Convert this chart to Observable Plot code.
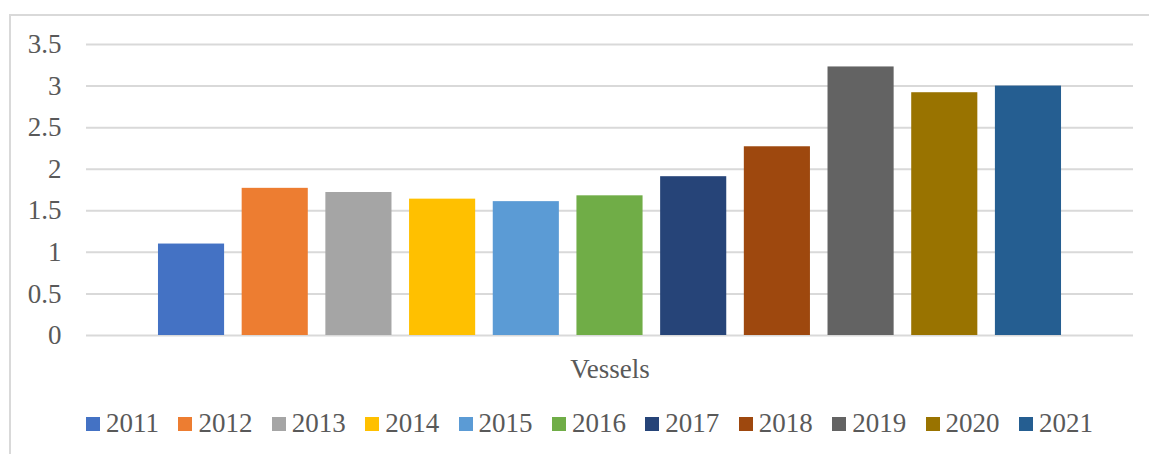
<!DOCTYPE html>
<html>
<head>
<meta charset="utf-8">
<script src="https://cdn.jsdelivr.net/npm/d3@7"></script>
<script src="https://cdn.jsdelivr.net/npm/@observablehq/plot@0.6"></script>
<style>
  html, body { margin: 0; padding: 0; background: #fff; }
  #wrap { position: relative; width: 1149px; height: 454px; overflow: hidden;
          font-family: "Liberation Serif", "Times New Roman", serif; }
  #frame { position: absolute; left: 9px; top: 14px; width: 1200px; height: 500px;
           border: 2px solid #d9d9d9; box-sizing: border-box; }
  #chart { position: absolute; left: 0; top: 0; }
  #legend { position: absolute; left: 86px; top: 407px; }
  .lg-swatch { margin-right: 19.4px !important; }
  .lg-swatch > svg { margin-right: 6px !important; }
</style>
</head>
<body>
<div id="wrap">
  <div id="frame"></div>
  <div id="chart"></div>
  <div id="legend"></div>
</div>
<script>
const categories = ["Vessels"];
const years = ["2011", "2012", "2013", "2014", "2015", "2016", "2017", "2018", "2019", "2020", "2021"];
const values = [1.1, 1.77, 1.72, 1.64, 1.61, 1.68, 1.91, 2.27, 3.23, 2.92, 3.0];
const colors = ["#4472c4", "#ed7d31", "#a5a5a5", "#ffc000", "#5b9bd5", "#70ad47",
                "#264478", "#9e480e", "#636363", "#997300", "#255e91"];
const yTicks = [0, 0.5, 1, 1.5, 2, 2.5, 3, 3.5];

const table = years.map((year, i) => ({ category: categories[0], year, value: values[i] }));

const font = '"Liberation Serif", "Times New Roman", serif';

const chart = Plot.plot({
  width: 1149,
  height: 400,
  marginLeft: 86,
  marginRight: 16,
  marginTop: 44,
  marginBottom: 65,
  style: { fontFamily: font, fontSize: "27px", color: "#595959", background: "transparent", overflow: "visible" },
  fx: { padding: 0, label: null, axis: "bottom", tickSize: 0, tickPadding: 23 },
  x: { domain: years, paddingInner: 0.21, paddingOuter: 0.86, round: false, axis: null },
  y: { domain: [0, 3.5], ticks: yTicks, tickSize: 0, tickPadding: 25, label: null, tickFormat: d => String(d) },
  color: { domain: years, range: colors },
  marks: [
    Plot.ruleY(yTicks, { stroke: "#d9d9d9", strokeWidth: 2 }),
    Plot.barY(table, { fx: "category", x: "year", y: "value", fill: "year" })
  ]
});
document.getElementById("chart").appendChild(chart);

const legend = chart.legend("color", {
  className: "lg",
  swatchSize: 14,
  style: { fontFamily: font, fontSize: "27px", color: "#595959" }
});
document.getElementById("legend").appendChild(legend);
</script>
</body>
</html>
